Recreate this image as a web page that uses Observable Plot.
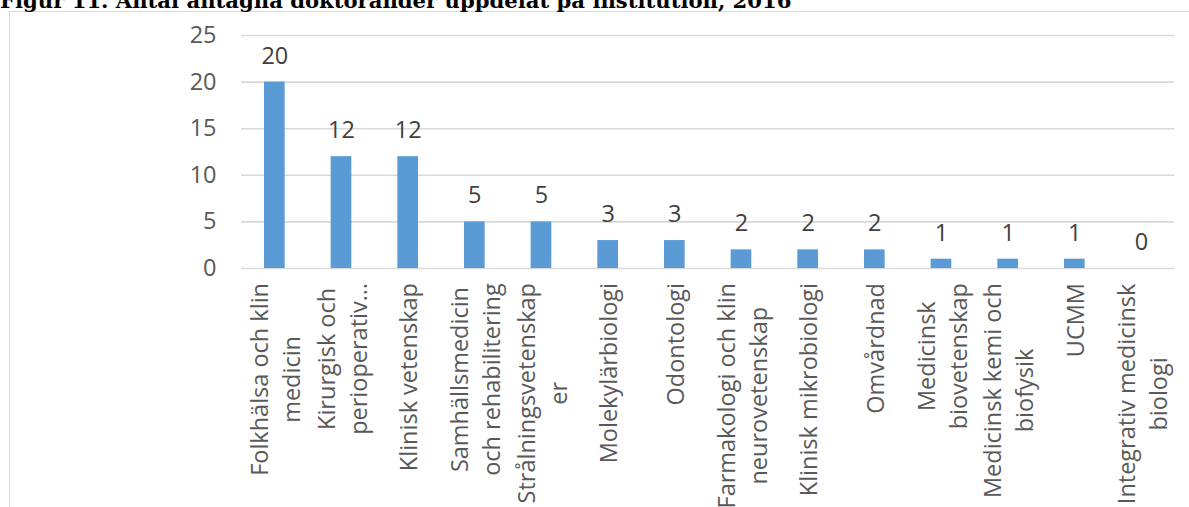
<!DOCTYPE html>
<html><head><meta charset="utf-8">
<script src="https://cdn.jsdelivr.net/npm/d3@7"></script>
<script src="https://cdn.jsdelivr.net/npm/@observablehq/plot@0.6"></script>
<style>
html,body{margin:0;padding:0;background:#fff;overflow:hidden;width:1189px;height:507px;}
#wrap{position:relative;width:1189px;height:507px;overflow:hidden;}
#title{position:absolute;left:0;top:-9px;font-family:"DejaVu Serif",serif;font-weight:bold;font-size:19px;line-height:20px;white-space:nowrap;color:#000;}
#frame{position:absolute;left:9px;top:11px;right:-5px;bottom:-5px;border-top:1px solid #d9d9d9;border-left:1px solid #d9d9d9;}
#chart{position:absolute;left:0;top:0;}
</style></head>
<body><div id="wrap"><div id="frame"></div><div id="title"><span id="ttext">Figur 11. Antal antagna doktorander uppdelat på institution, 2016</span><span id="base" style="display:inline-block;width:0;height:0;vertical-align:baseline"></span></div><div id="chart"></div></div>
<script>
const institutions = [
  "Folkhälsa och klin medicin",
  "Kirurgisk och perioperativ vetenskap",
  "Klinisk vetenskap",
  "Samhällsmedicin och rehabilitering",
  "Strålningsvetenskaper",
  "Molekylärbiologi",
  "Odontologi",
  "Farmakologi och klin neurovetenskap",
  "Klinisk mikrobiologi",
  "Omvårdnad",
  "Medicinsk biovetenskap",
  "Medicinsk kemi och biofysik",
  "UCMM",
  "Integrativ medicinsk biologi"
];
const tickLabels = [
  "Folkhälsa och klin\nmedicin",
  "Kirurgisk och\nperioperativ…",
  "Klinisk vetenskap",
  "Samhällsmedicin\noch rehabilitering",
  "Strålningsvetenskap\ner",
  "Molekylärbiologi",
  "Odontologi",
  "Farmakologi och klin\nneurovetenskap",
  "Klinisk mikrobiologi",
  "Omvårdnad",
  "Medicinsk\nbiovetenskap",
  "Medicinsk kemi och\nbiofysik",
  "UCMM",
  "Integrativ medicinsk\nbiologi"
];
const antagna = [20, 12, 12, 5, 5, 3, 3, 2, 2, 2, 1, 1, 1, 0];
const yTicks = [0, 5, 10, 15, 20, 25];

const data = institutions.map((d, i) => ({inst: d, value: antagna[i]}));
const labelOf = new Map(institutions.map((d, i) => [d, tickLabels[i]]));

const FONT = 23.5;
const chart = Plot.plot({
  width: 1189,
  height: 507,
  marginLeft: 241,
  marginRight: 14.7,
  marginTop: 35,
  marginBottom: 239,
  style: {fontFamily: "'Open Sans', sans-serif", fontSize: FONT + "px", background: "transparent", overflow: "visible"},
  x: {domain: institutions, paddingInner: 0.69, paddingOuter: 0.345, round: false, label: null},
  y: {domain: [0, 25], ticks: yTicks, label: null},
  marks: [
    Plot.gridY(yTicks, {stroke: "#d9d9d9", strokeOpacity: 1, strokeWidth: 1.6}),
    Plot.barY(data, {x: "inst", y: "value", fill: "#5b9bd5"}),
    Plot.text(data, {x: "inst", y: "value", text: d => String(d.value), dy: -18.5, lineAnchor: "bottom", fill: "#404040", fontSize: FONT}),
    Plot.axisY({ticks: yTicks, tickSize: 0, tickPadding: 25, fontSize: FONT, color: "#595959", label: null}),
    Plot.axisX({tickSize: 0, tickPadding: 16, tickRotate: -90, tickFormat: d => labelOf.get(d), lineHeight: 1.36, fontSize: FONT, color: "#595959", label: null})
  ]
});
document.getElementById("chart").append(chart);

// center-align each multi-line tick label and anchor its top edge below the axis
const tickTexts = chart.querySelectorAll('[aria-label="x-axis tick label"] text');
tickTexts.forEach(t => {
  t.setAttribute("text-anchor", "middle");
  t.querySelectorAll("tspan").forEach(s => s.setAttribute("text-anchor", "middle"));
});
tickTexts.forEach(t => {
  const r = t.getBoundingClientRect();
  const delta = 283 - r.top;
  t.setAttribute("transform", `translate(-1,${delta}) ` + (t.getAttribute("transform") || ""));
});

// size the title to its width in the reference and put its baseline at y=8
const title = document.getElementById("title");
const tt = document.getElementById("ttext");
const w = tt.getBoundingClientRect().width;
title.style.fontSize = (19 * 792 / w) + "px";
const b = document.getElementById("base").offsetTop;
title.style.top = (8 - b) + "px";
</script>
</body></html>
